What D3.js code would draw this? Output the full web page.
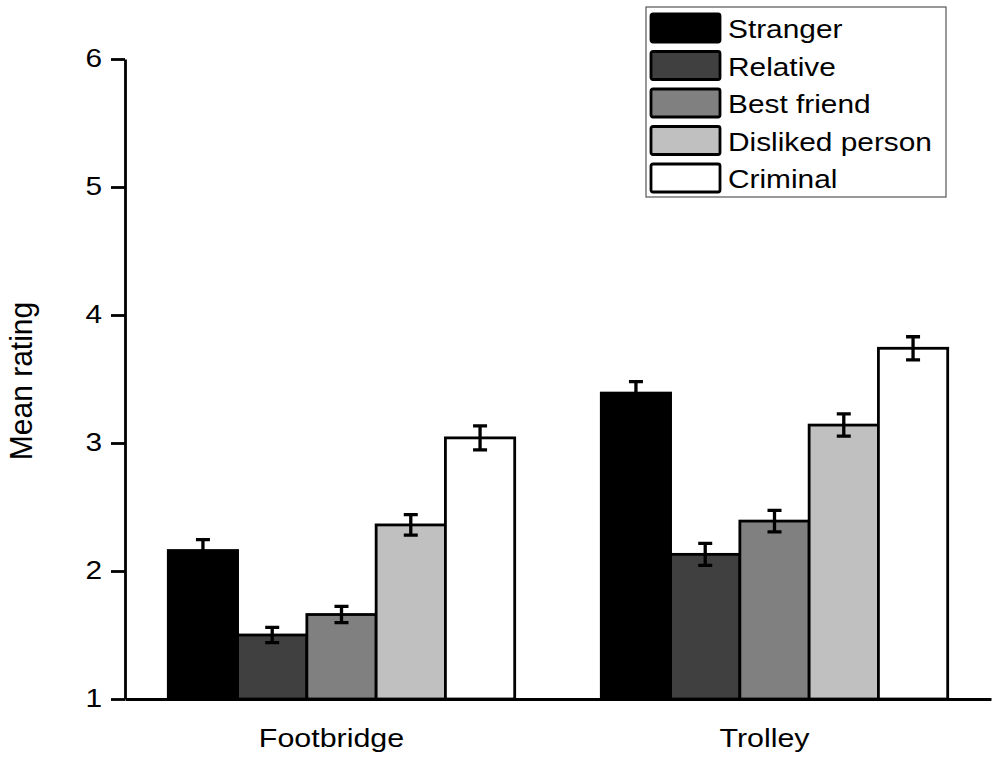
<!DOCTYPE html>
<html lang="en">
<head>
    <meta charset="UTF-8">
    <title>Mean rating by dilemma and target</title>
    <script src="https://cdn.jsdelivr.net/npm/d3@7/dist/d3.min.js"></script>
    <style>
        body { margin: 0; background: #fff; }
        text { font-family: "Liberation Sans", Arial, sans-serif; fill: #000; }
    </style>
</head>
<body>
<svg id="main" width="1000" height="761"></svg>
<script>
    const categories = ['Footbridge', 'Trolley'];
    const targets = ['Stranger', 'Relative', 'Best friend', 'Disliked person', 'Criminal'];
    const footbridgeMeans = [2.16, 1.50, 1.66, 2.36, 3.04];
    const trolleyMeans = [3.39, 2.13, 2.39, 3.14, 3.74];
    const footbridgeErr = [0.085, 0.06, 0.063, 0.08, 0.094];
    const trolleyErr = [0.09, 0.086, 0.084, 0.087, 0.09];
    const yTicks = [1, 2, 3, 4, 5, 6];
    const fills = ['#000000', '#404040', '#808080', '#c0c0c0', '#ffffff'];

    const means = [footbridgeMeans, trolleyMeans];
    const errs = [footbridgeErr, trolleyErr];

    const svg = d3.select('svg#main');
    const marginLeft = 125, plotRight = 991, plotTop = 59, plotBottom = 699;
    const stretch = 1.17; // the original picture is a bit wider than tall

    const x0 = d3.scaleBand()
        .domain(categories)
        .range([marginLeft, plotRight])
        .paddingInner(0.2)
        .paddingOuter(0.1);
    const x1 = d3.scaleBand()
        .domain(targets)
        .range([0, x0.bandwidth()]);
    const y = d3.scaleLinear()
        .domain([1, 6])
        .range([plotBottom, plotTop]);

    const rows = [];
    categories.forEach((c, ci) => {
        targets.forEach((t, ti) => {
            rows.push({cat: c, target: t, i: ti, mean: means[ci][ti], err: errs[ci][ti]});
        });
    });

    // bars
    const groups = svg.selectAll('g.bar')
        .data(rows)
        .enter()
        .append('g')
        .attr('class', 'bar')
        .attr('transform', d => 'translate(' + (x0(d.cat) + x1(d.target)) + ',0)');

    groups.append('rect')
        .attr('x', 0)
        .attr('y', d => y(d.mean))
        .attr('width', x1.bandwidth())
        .attr('height', d => y(1) - y(d.mean))
        .attr('fill', d => fills[d.i])
        .attr('stroke', '#000')
        .attr('stroke-width', 2.8);

    // error bars
    const cx = x1.bandwidth() / 2, cap = 7;
    groups.append('path')
        .attr('d', d => {
            const hi = y(d.mean + d.err), lo = y(d.mean - d.err);
            return 'M' + cx + ',' + hi + 'V' + lo +
                'M' + (cx - cap) + ',' + hi + 'H' + (cx + cap) +
                'M' + (cx - cap) + ',' + lo + 'H' + (cx + cap);
        })
        .attr('fill', 'none')
        .attr('stroke', '#000')
        .attr('stroke-width', 3.3);

    // y axis
    const yAxis = svg.append('g')
        .attr('transform', 'translate(' + marginLeft + ',0)')
        .call(d3.axisLeft(y).tickValues(yTicks).tickSize(14).tickSizeOuter(0).tickFormat(d3.format('d')));
    yAxis.selectAll('path, line').attr('stroke', '#000').attr('stroke-width', 2.8);
    yAxis.selectAll('text')
        .attr('x', 0)
        .attr('dy', '0.34em')
        .attr('transform', 'translate(-23,-1) scale(' + stretch + ',1)')
        .style('font-size', '25.5px');

    // x axis
    const xAxis = svg.append('g')
        .attr('transform', 'translate(0,' + plotBottom + ')')
        .call(d3.axisBottom(x0).tickSize(0).tickSizeOuter(0));
    xAxis.select('path').attr('stroke', '#000').attr('stroke-width', 2.8);
    xAxis.selectAll('text')
        .attr('y', 0)
        .attr('dy', 0)
        .attr('transform', 'translate(-10,48) scale(' + stretch + ',1)')
        .style('font-size', '26px');

    // y label
    svg.append('text')
        .attr('transform', 'translate(32,' + ((plotTop + plotBottom) / 2 + 2) + ') rotate(-90) scale(1,1.07)')
        .attr('text-anchor', 'middle')
        .style('font-size', '30px')
        .text('Mean rating');

    // legend
    const legend = svg.append('g').attr('transform', 'translate(646,7)');
    legend.append('rect')
        .attr('width', 300).attr('height', 190)
        .attr('fill', '#fff')
        .attr('stroke', '#555').attr('stroke-width', 1.2);

    const items = legend.selectAll('g.item')
        .data(targets)
        .enter()
        .append('g')
        .attr('class', 'item')
        .attr('transform', (d, i) => 'translate(0,' + (7 + i * 37.5) + ')');
    items.append('rect')
        .attr('x', 5).attr('y', 0)
        .attr('width', 69).attr('height', 28)
        .attr('rx', 2)
        .attr('fill', (d, i) => fills[i])
        .attr('stroke', '#000').attr('stroke-width', 2.8);
    items.append('text')
        .attr('transform', 'translate(82,24) scale(' + stretch + ',1)')
        .style('font-size', '25.5px')
        .text(d => d);
</script>
</body>
</html>
